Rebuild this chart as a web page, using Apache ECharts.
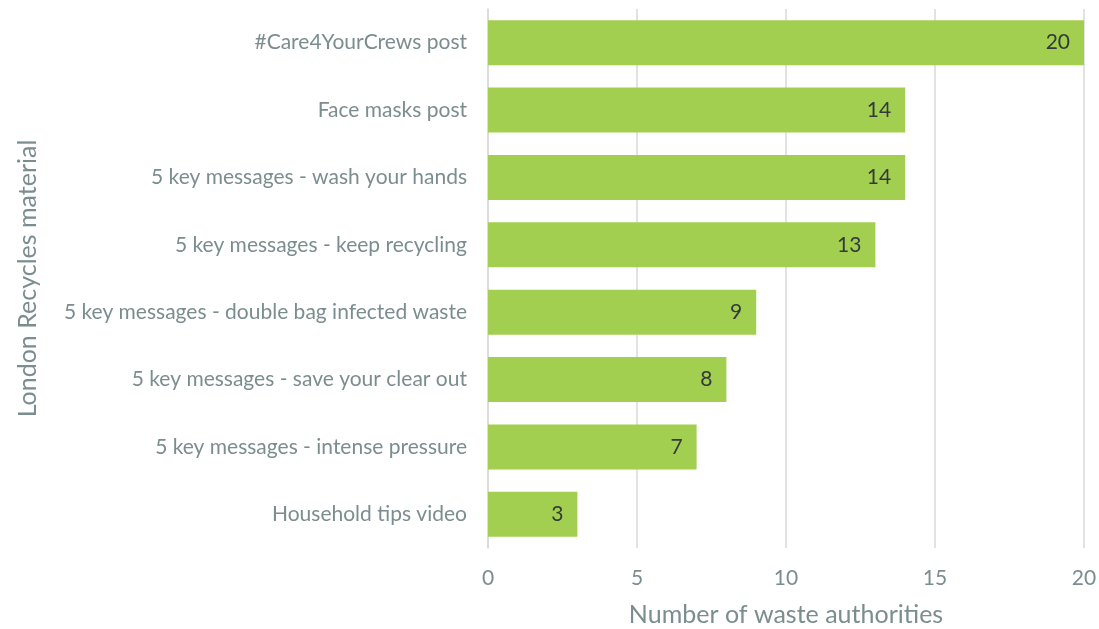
<!DOCTYPE html>
<html>
<head>
<meta charset="utf-8">
<script src="https://cdn.jsdelivr.net/npm/echarts@6/dist/echarts.min.js"></script>
<style>
  html, body { margin: 0; padding: 0; background: #fff; }
  #chart { width: 1099px; height: 629px; }
</style>
</head>
<body>
<div id="chart"></div>
<script>
// Materials, listed bottom to top as the category axis draws them
const categories = [
  'Household tips video',
  '5 key messages - intense pressure',
  '5 key messages - save your clear out',
  '5 key messages - double bag infected waste',
  '5 key messages - keep recycling',
  '5 key messages - wash your hands',
  'Face masks post',
  '#Care4YourCrews post'
];
const authorities = [3, 7, 8, 9, 13, 14, 14, 20];
const xTicks = [0, 5, 10, 15, 20];

const FONT = 'Lato, "Open Sans", sans-serif';
const GREY = '#7b8d8e';

const chart = echarts.init(document.getElementById('chart'));
chart.setOption({
  animation: false,
  textStyle: { fontFamily: FONT },
  grid: { left: 488, right: 15, top: 9, bottom: 81, containLabel: false, outerBoundsMode: 'none' },
  xAxis: {
    type: 'value',
    min: xTicks[0],
    max: xTicks[xTicks.length - 1],
    interval: xTicks[1] - xTicks[0],
    name: 'Number of waste authorities',
    nameLocation: 'middle',
    nameGap: 54,
    nameTextStyle: { color: GREY, fontSize: 25, fontFamily: FONT },
    axisLine: { show: false },
    axisTick: { show: false },
    axisLabel: { color: GREY, fontSize: 21, margin: 20, fontFamily: FONT },
    splitLine: { show: true, lineStyle: { color: '#d9d9d9', width: 1.5 } }
  },
  yAxis: {
    type: 'category',
    data: categories,
    name: 'London Recycles material',
    nameLocation: 'middle',
    nameGap: 448,
    nameTextStyle: { color: GREY, fontSize: 25, fontFamily: FONT },
    axisLine: { show: true, lineStyle: { color: '#d9d9d9', width: 1.5 } },
    axisTick: { show: false },
    axisLabel: { color: GREY, fontSize: 21, margin: 21, fontFamily: FONT }
  },
  series: [{
    type: 'bar',
    data: authorities,
    barWidth: 45,
    itemStyle: { color: '#a2cf4f' },
    label: {
      show: true,
      position: 'insideRight',
      distance: 14,
      color: '#333a3a',
      fontSize: 21,
      fontFamily: FONT
    }
  }]
});
</script>
</body>
</html>
